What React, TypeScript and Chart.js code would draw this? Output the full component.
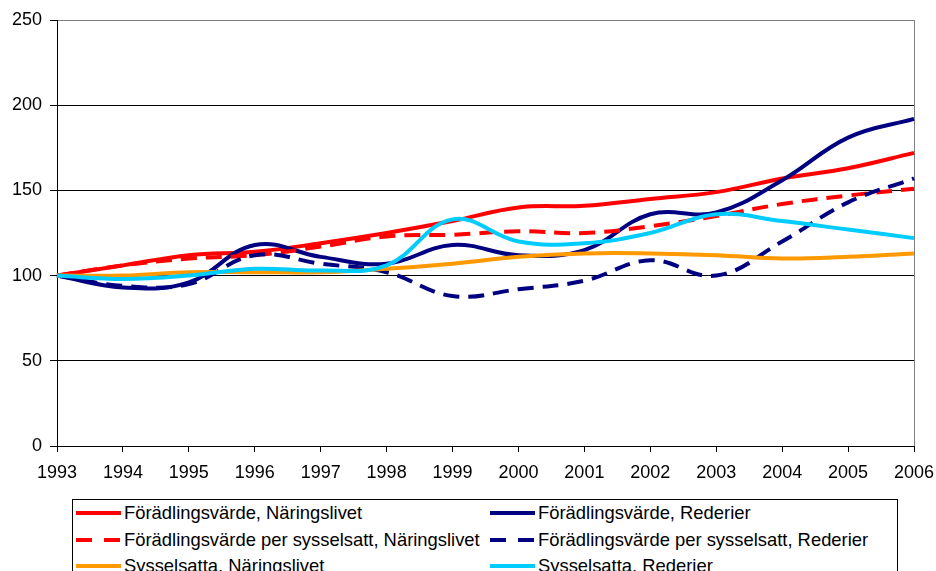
import React, { useEffect, useRef } from "react";
import { Chart, registerables } from "chart.js";

Chart.register(...registerables);

const years = ["1993", "1994", "1995", "1996", "1997", "1998", "1999", "2000", "2001", "2002", "2003", "2004", "2005", "2006"];
const yTicks = [0, 50, 100, 150, 200, 250];

const fvNaringslivet = [100, 106, 112, 114, 119, 125, 132, 140, 141, 145, 149, 157, 163, 172];
const fvRederier = [100, 93, 96, 118, 111, 107, 118, 112, 115, 136, 137, 156, 181, 192];
const fvpsNaringslivet = [100, 106, 110, 112, 117, 123, 124, 126, 125, 129, 135, 142, 147, 151];
const fvpsRederier = [100, 94, 95, 112, 107, 102, 88, 92, 97, 109, 100, 120, 143, 157];
const sysNaringslivet = [100, 100, 102, 102, 102, 104, 107, 111, 113, 113, 112, 110, 111, 113];
const sysRederier = [100, 98, 100, 104, 103, 106, 133, 120, 119, 125, 136, 132, 127, 122];

const seriesLabels = [
  "Förädlingsvärde, Näringslivet",
  "Förädlingsvärde, Rederier",
  "Förädlingsvärde per sysselsatt, Näringslivet",
  "Förädlingsvärde per sysselsatt, Rederier",
  "Sysselsatta, Näringslivet",
  "Sysselsatta, Rederier",
];
const seriesData = [fvNaringslivet, fvRederier, fvpsNaringslivet, fvpsRederier, sysNaringslivet, sysRederier];
const seriesColors = ["#FF0000", "#000080", "#FF0000", "#000080", "#FF9900", "#00CCFF"];
const seriesDashed = [false, false, true, true, false, false];

const FONT = "'Liberation Sans', Arial, sans-serif";

export default function App() {
  const ref = useRef<HTMLCanvasElement | null>(null);

  useEffect(() => {
    if (!ref.current) return;
    Chart.defaults.font.family = FONT;
    const chart = new Chart(ref.current, {
      type: "line",
      data: {
        labels: years,
        datasets: seriesLabels.map((label, i) => ({
          label,
          data: seriesData[i],
          borderColor: seriesColors[i],
          backgroundColor: seriesColors[i],
          borderWidth: 4,
          borderDash: seriesDashed[i] ? [16, 9] : [],
          pointRadius: 0,
          tension: 0.4,
          fill: false,
          order: seriesLabels.length - i,
        })),
      },
      options: {
        animation: false,
        responsive: false,
        devicePixelRatio: 1,
        layout: { padding: { top: 20, right: 22, left: 0, bottom: 0 } },
        plugins: { legend: { display: false }, tooltip: { enabled: false } },
        scales: {
          x: {
            type: "category",
            offset: false,
            afterFit: (s: any) => {
              s.height = 125;
              s.paddingLeft = 0;
              s.paddingRight = 0;
            },
            grid: {
              color: (c: any) => (c.index === years.length - 1 ? "#808080" : "rgba(0,0,0,0)"),
              tickColor: "#000000",
              tickLength: 6,
              drawOnChartArea: true,
              drawTicks: true,
            },
            border: { color: "#000000", width: 1 },
            ticks: {
              color: "#000000",
              font: { size: 18, family: FONT },
              padding: 10,
              maxRotation: 0,
              autoSkip: false,
            },
          },
          y: {
            min: 0,
            max: 250,
            afterFit: (s: any) => {
              s.width = 57;
              s.paddingTop = 0;
              s.paddingBottom = 0;
            },
            afterBuildTicks: (s: any) => {
              s.ticks = yTicks.map((v) => ({ value: v }));
            },
            grid: {
              color: (c: any) => (c.tick && c.tick.value === 250 ? "#808080" : "#000000"),
              tickColor: "#000000",
              tickLength: 7,
            },
            border: { color: "#000000", width: 1 },
            ticks: {
              color: "#000000",
              font: { size: 18, family: FONT },
              padding: 8,
              stepSize: 50,
            },
          },
        },
      },
    });
    return () => chart.destroy();
  }, []);

  const rowCenters = [513, 540, 566];
  const colLineX = [76, 490];
  const colTextX = [124, 538];

  return (
    <div
      style={{
        position: "absolute",
        left: 0,
        top: 0,
        width: 936,
        height: 571,
        overflow: "hidden",
        background: "#ffffff",
      }}
    >
      <canvas ref={ref} width={936} height={571} style={{ display: "block", width: 936, height: 571 }} />
      <div
        style={{
          position: "absolute",
          left: 72,
          top: 499,
          width: 826,
          height: 120,
          border: "1px solid #000000",
          boxSizing: "border-box",
          background: "#ffffff",
        }}
      />
      {seriesLabels.map((label, i) => {
        const row = Math.floor(i / 2);
        const col = i % 2;
        const cy = rowCenters[row];
        return (
          <React.Fragment key={label}>
            <svg
              width={46}
              height={8}
              style={{ position: "absolute", left: colLineX[col], top: cy - 4 }}
            >
              <line
                x1={0}
                y1={4}
                x2={45}
                y2={4}
                stroke={seriesColors[i]}
                strokeWidth={4}
                strokeDasharray={seriesDashed[i] ? "16 12" : undefined}
              />
            </svg>
            <div
              style={{
                position: "absolute",
                left: colTextX[col],
                top: cy - 11,
                height: 22,
                lineHeight: "22px",
                fontFamily: FONT,
                fontSize: 18.4,
                color: "#000000",
                whiteSpace: "nowrap",
              }}
            >
              {label}
            </div>
          </React.Fragment>
        );
      })}
    </div>
  );
}
